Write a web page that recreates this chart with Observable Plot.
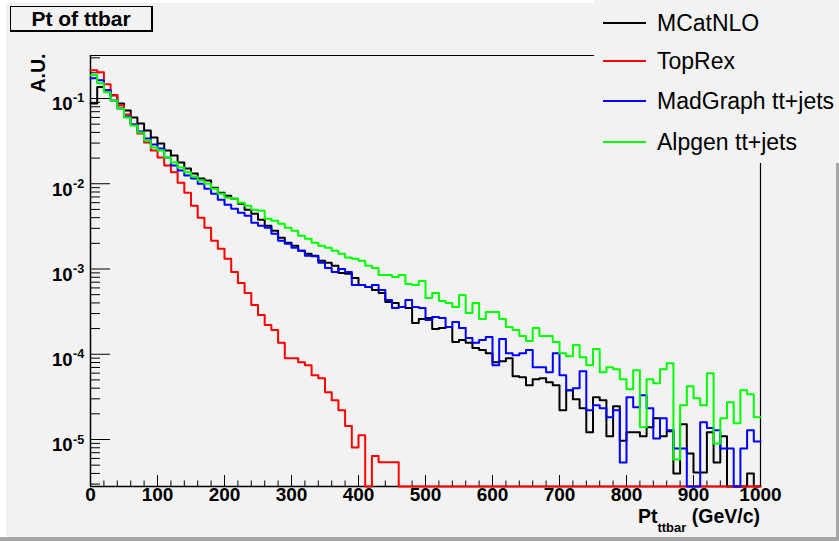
<!DOCTYPE html>
<html>
<head>
<meta charset="utf-8">
<script src="https://cdn.jsdelivr.net/npm/d3@7"></script>
<script src="https://cdn.jsdelivr.net/npm/@observablehq/plot@0.6"></script>
<style>
  html, body { margin: 0; padding: 0; background: #f2f2f2; }
  #fig { position: relative; width: 839px; height: 541px; background: #f2f2f2; overflow: hidden;
         font-family: "Liberation Sans", Arial, Helvetica, sans-serif; }
  #fig svg { position: absolute; left: 0; top: 0; }
  .edge { position: absolute; }
  #title { position: absolute; left: 10px; top: 6px; width: 143px; height: 26px; box-sizing: border-box;
           border: 1px solid #000; border-right-width: 2px; border-bottom-width: 2px;
           font-weight: bold; font-size: 21px; line-height: 23px; text-align: center; color: #000; background: #f2f2f2; }
  #legend { position: absolute; left: 594px; top: 0; width: 245px; height: 163px; background: #f2f2f2; }
  .lrow { position: absolute; left: 0; width: 245px; height: 0; }
  .lline { position: absolute; left: 9px; width: 43px; height: 2px; top: -1px; }
  .ltext { position: absolute; left: 63px; top: -14px; font-size: 23px; line-height: 28px; color: #000; white-space: nowrap; }
  #xtitle { position: absolute; right: 79px; top: 506px; font-weight: bold; font-size: 19.5px; line-height: 20px; color: #000; white-space: nowrap; }
  #xtitle .sub { font-size: 13px; position: relative; top: 9px; }
</style>
</head>
<body>
<div id="fig"></div>
<script>
// ---------------- data ----------------
const binLow = d3.range(0, 1000, 10); // lower edges of the 10 GeV/c bins
const seriesNames = ["MCatNLO", "TopRex", "MadGraph tt+jets", "Alpgen tt+jets"];
const seriesColors = ["#000000", "#ff0000", "#0000ff", "#00ff00"];

const mcatnlo = [
  0.0874,0.136,0.125,0.109,0.0874,0.0723,0.0598,0.0509,0.0421,0.0349,
  0.0296,0.0245,0.0214,0.0177,0.0151,0.0132,0.0115,0.0109,0.00898,0.00784,
  0.00723,0.00667,0.00583,0.00495,0.00445,0.00378,0.00322,0.00281,0.00232,0.00203,
  0.00187,0.00164,0.00151,0.00143,0.00125,0.00118,0.00109,0.000898,0.00088,0.000784,
  0.000649,0.000615,0.000567,0.000523,0.00041,0.000399,0.000358,0.000349,0.000232,0.000259,
  0.000266,0.000198,0.000203,0.000209,0.000139,0.000147,0.000136,0.000118,0.000112,0.000103,
  8.06e-5,8.28e-5,8.98e-5,5.52e-5,5.37e-5,4.33e-5,5.09e-5,5.23e-5,4.69e-5,4.33e-5,
  2.2e-5,3.78e-5,2.96e-5,2.32e-5,1.22e-5,3.13e-5,2.89e-5,1.09e-5,2.45e-5,9.7e-6,
  1.22e-5,1.22e-5,1.09e-5,1.39e-5,1.77e-5,1.09e-5,1.25e-5,4.0e-6,1.51e-5,6.85e-6,
  4.1e-6,4.1e-6,1.22e-5,5.37e-6,1.09e-5,0,0,0,4.0e-6,0
];
const toprex = [
  0.214,0.203,0.147,0.109,0.0828,0.0649,0.0495,0.0388,0.0305,0.0245,
  0.0203,0.0164,0.0136,0.0103,0.00784,0.00552,0.00399,0.00305,0.00214,0.00173,
  0.00132,0.000922,0.000685,0.000523,0.000378,0.000289,0.00022,0.000192,0.000136,8.98e-5,
  8.98e-5,8.06e-5,7.43e-5,5.67e-5,5.23e-5,3.58e-5,2.89e-5,2.2e-5,1.44e-5,8.06e-6,
  1.12e-5,0,6.4e-6,5.4e-6,5.4e-6,5.4e-6,0,0,0,0,
  0,0,0,0,0,0,0,0,0,0,
  0,0,0,0,0,0,0,0,0,0,
  0,0,0,0,0,0,0,0,0,0,
  0,0,0,0,0,0,0,0,0,0,
  0,0,0,0,0,0,0,0,0,0
];
const madgraph = [
  0.173,0.164,0.125,0.0947,0.0763,0.0615,0.0495,0.041,0.0339,0.0289,
  0.0259,0.0203,0.0164,0.0143,0.0125,0.0115,0.0100,0.00874,0.00763,0.00649,
  0.00567,0.00509,0.00457,0.00421,0.00349,0.00322,0.00305,0.00259,0.00214,0.00198,
  0.00177,0.00164,0.00143,0.00141,0.00118,0.00103,0.000922,0.001,0.000922,0.000649,
  0.000649,0.000615,0.000649,0.000567,0.000433,0.000349,0.000358,0.000433,0.000358,0.000349,
  0.000252,0.000273,0.000266,0.000209,0.000239,0.000203,0.000155,0.000136,0.000147,0.000159,
  7.43e-5,0.000151,0.000103,9.73e-5,0.000103,0.000112,7.04e-5,7.04e-5,6.15e-5,0.000103,
  5.67e-5,3.78e-5,3.99e-5,6.32e-5,2.2e-5,2.52e-5,2.32e-5,1.82e-5,2.2e-5,5.37e-6,
  3.13e-5,2.39e-5,3.3e-5,2.32e-5,1.03e-5,1.77e-5,1.28e-5,7.84e-6,7.84e-6,0,
  0,1.59e-5,1.36e-5,1.28e-5,7.84e-6,7.84e-6,0,7.84e-6,1.28e-5,9.47e-6
];
const alpgen = [
  0.187,0.151,0.118,0.0947,0.0763,0.0598,0.0482,0.0399,0.0322,0.0266,
  0.0245,0.0203,0.0177,0.0155,0.0136,0.0122,0.0109,0.0100,0.00874,0.00763,
  0.00685,0.00667,0.00598,0.00552,0.00495,0.00482,0.00388,0.00368,0.00339,0.00305,
  0.00281,0.00245,0.00226,0.00203,0.00187,0.00177,0.00164,0.00151,0.00136,0.00132,
  0.00125,0.00109,0.00103,0.000851,0.000851,0.000806,0.000851,0.000667,0.000649,0.000723,
  0.000457,0.000523,0.000421,0.000399,0.000358,0.000495,0.000305,0.000399,0.000259,0.000313,
  0.000313,0.000259,0.000209,0.000192,0.000164,0.000143,0.000203,0.000164,0.000164,0.000139,
  0.000103,9.47e-5,0.000128,9.22e-5,7.43e-5,0.000115,6.15e-5,7.04e-5,6.67e-5,5.09e-5,
  3.88e-5,6.49e-5,1.39e-5,5.09e-5,4.57e-5,6.67e-5,7.84e-5,5.83e-6,2.52e-5,4.21e-5,
  3.05e-5,2.52e-5,5.98e-5,8.98e-6,1.77e-5,2.73e-5,1.55e-5,3.78e-5,3.39e-5,1.82e-5
];

const xTicks = [0, 100, 200, 300, 400, 500, 600, 700, 800, 900, 1000];
const yDecades = [1e-1, 1e-2, 1e-3, 1e-4, 1e-5];
const yExponents = ["-1", "-2", "-3", "-4", "-5"];

// ---------------- scales / layout ----------------
const W = 839, H = 541;
const mLeft = 90, mRight = 79, mTop = 55, mBottom = 55;
const frameW = W - mLeft - mRight, frameH = H - mTop - mBottom;
const xMin = 0, xMax = 1000;
const yMin = 2.81e-6, yMax = 0.3194;

function toRows(name, vals) {
  const rows = binLow.map((x, i) => ({series: name, x, y: Math.max(vals[i], yMin)}));
  rows.push({series: name, x: xMax, y: rows[rows.length - 1].y});
  return rows;
}
const allSeries = [mcatnlo, toprex, madgraph, alpgen];

// minor ticks
const yMinor = [];
for (let e = -6; e <= -1; e++) for (let k = 2; k <= 9; k++) {
  const v = k * Math.pow(10, e);
  if (v > yMin && v < yMax) yMinor.push(v);
}
const xMinor = d3.range(0, 1001, 20).filter(v => v % 100 !== 0);

const bold = {fontWeight: "bold", fill: "#000", fontFamily: "Liberation Sans, Arial, sans-serif"};

const marks = [
  // frame / axes lines
  Plot.ruleY([yMax], {stroke: "#000", strokeWidth: 1.2}),
  Plot.ruleX([xMax], {stroke: "#000", strokeWidth: 1.2}),
  // y ticks (inside, pointing right)
  Plot.ruleY(yDecades, {stroke: "#000", strokeWidth: 1, insetRight: frameW - 20}),
  Plot.ruleY(yMinor, {stroke: "#000", strokeWidth: 1, insetRight: frameW - 10}),
  // x ticks (inside, pointing up)
  Plot.ruleX(xTicks, {stroke: "#000", strokeWidth: 1, insetTop: frameH - 11}),
  Plot.ruleX(xMinor, {stroke: "#000", strokeWidth: 1, insetTop: frameH - 5.5}),
  Plot.ruleX([xMin], {stroke: "#000", strokeWidth: 1.5}),
  Plot.ruleY([yMin], {stroke: "#000", strokeWidth: 1.5}),
  // histograms
  ...allSeries.map((vals, i) => Plot.line(toRows(seriesNames[i], vals), {
    x: "x", y: "y", curve: "step-after", stroke: seriesColors[i], strokeWidth: 2
  })),
  // x tick labels
  Plot.text(xTicks, {x: d => d, text: d => String(d), frameAnchor: "bottom", dy: 14.7, fontSize: 19, ...bold}),
  // y tick labels: "10" with superscript exponent
  Plot.text(yDecades, {y: d => d, text: () => "10", frameAnchor: "left", textAnchor: "end", dx: -18, dy: 6, fontSize: 18.5, ...bold}),
  Plot.text(yDecades, {y: d => d, text: (d, i) => yExponents[i], frameAnchor: "left", textAnchor: "start", dx: -17.5, dy: 0, fontSize: 12.5, ...bold}),
  // y axis title
  Plot.text(["A.U."], {frameAnchor: "top-left", text: d => d, rotate: -90, textAnchor: "end", dx: -59, dy: -2, fontSize: 19.5, ...bold})
];

const chart = Plot.plot({
  width: W, height: H,
  marginLeft: mLeft, marginRight: mRight, marginTop: mTop, marginBottom: mBottom,
  x: {domain: [xMin, xMax], axis: null},
  y: {type: "log", domain: [yMin, yMax], axis: null},
  style: {background: "transparent", overflow: "visible"},
  marks
});

const fig = document.getElementById("fig");
fig.appendChild(chart);

// canvas bevel edges
function edge(css) { const d = document.createElement("div"); d.className = "edge"; Object.assign(d.style, css); fig.appendChild(d); }
edge({left: "0px", top: "0px", width: W + "px", height: "3px", background: "#ffffff"});
edge({left: "0px", top: "0px", width: "6px", height: H + "px", background: "#ffffff"});
edge({left: "0px", top: (H - 4) + "px", width: W + "px", height: "4px", background: "#a6a6a6"});
edge({left: (W - 3) + "px", top: "0px", width: "3px", height: H + "px", background: "#a6a6a6"});

// title box
const title = document.createElement("div");
title.id = "title"; title.textContent = "Pt of ttbar";
fig.appendChild(title);

// legend
const legend = document.createElement("div");
legend.id = "legend";
const rowY = [23, 61, 101, 142];
seriesNames.forEach((name, i) => {
  const row = document.createElement("div");
  row.className = "lrow"; row.style.top = rowY[i] + "px";
  const ln = document.createElement("div"); ln.className = "lline"; ln.style.background = seriesColors[i];
  const tx = document.createElement("div"); tx.className = "ltext"; tx.textContent = name;
  row.appendChild(ln); row.appendChild(tx); legend.appendChild(row);
});
fig.appendChild(legend);

// x axis title
const xt = document.createElement("div");
xt.id = "xtitle";
xt.innerHTML = 'Pt<span class="sub">ttbar</span> (GeV/c)';
fig.appendChild(xt);
</script>
</body>
</html>
